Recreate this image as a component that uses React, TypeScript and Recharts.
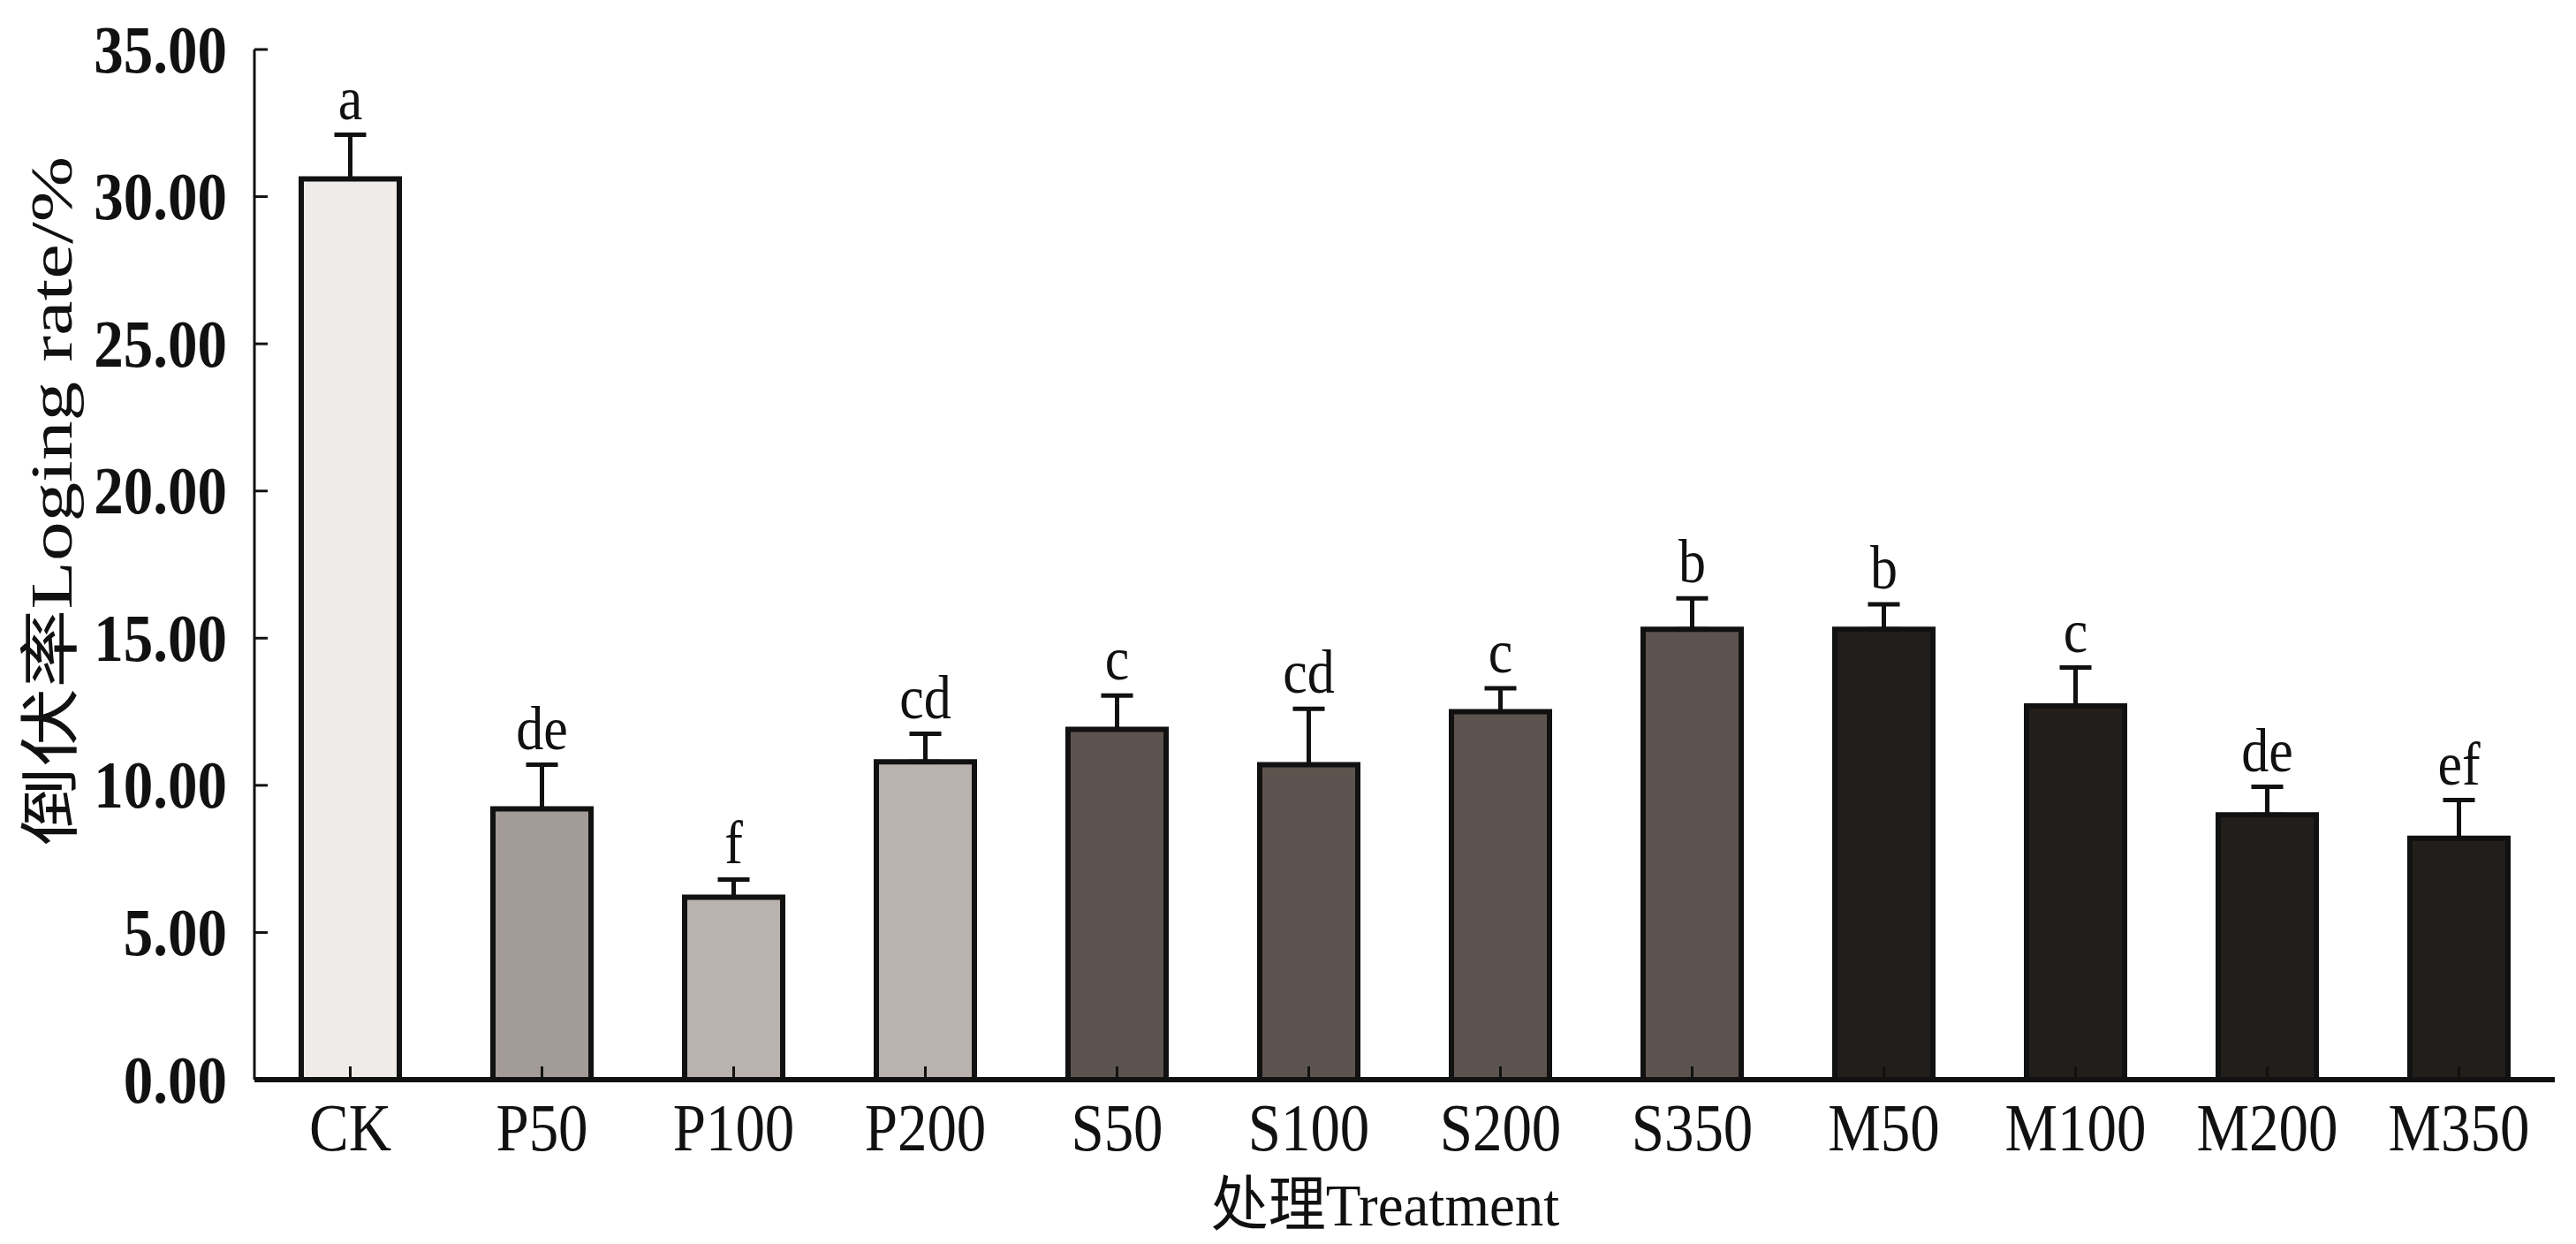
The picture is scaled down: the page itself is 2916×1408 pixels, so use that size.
import React from 'react';
import { BarChart, Bar, XAxis, YAxis, ErrorBar, Cell, LabelList, Label } from 'recharts';

const categories = ['CK', 'P50', 'P100', 'P200', 'S50', 'S100', 'S200', 'S350', 'M50', 'M100', 'M200', 'M350'];
const means = [30.6, 9.2, 6.2, 10.8, 11.9, 10.7, 12.5, 15.3, 15.3, 12.7, 9.0, 8.2];
const errors = [1.5, 1.5, 0.6, 0.95, 1.15, 1.9, 0.8, 1.05, 0.85, 1.3, 0.95, 1.3];
const letters = ['a', 'de', 'f', 'cd', 'c', 'cd', 'c', 'b', 'b', 'c', 'de', 'ef'];
const yTicks = [0, 5, 10, 15, 20, 25, 30, 35];

const colorByCategory: Record<string, string> = {
  CK: '#efebe8',
  P50: '#a39b97',
  P100: '#bab2ae',
  P200: '#bab2ae',
  S50: '#5d534e',
  S100: '#5d534e',
  S200: '#5d534e',
  S350: '#5d534e',
  M50: '#221e1b',
  M100: '#221e1b',
  M200: '#221e1b',
  M350: '#221e1b',
};

const data = categories.map((name, i) => ({
  name,
  mean: means[i],
  err: [0, errors[i]],
  letter: letters[i],
}));

const FONT = '"Liberation Serif", "Times New Roman", "Noto Sans CJK SC", serif';
const STRETCH = 1.14;

const XTick = (props: any) => {
  const { x, y, payload } = props;
  return (
    <g transform={`translate(${x},${y}) scale(1,${STRETCH})`}>
      <text x={0} y={0} dy={14} textAnchor="middle" dominantBaseline="central" fontSize={67} fontFamily={FONT} fill="#111">
        {payload.value}
      </text>
    </g>
  );
};

const YTick = (props: any) => {
  const { x, y, payload } = props;
  return (
    <g transform={`translate(${x},${y}) scale(1,${STRETCH})`}>
      <text x={0} y={0} textAnchor="end" dominantBaseline="central" fontSize={67} fontWeight="bold" fontFamily={FONT} fill="#111">
        {Number(payload.value).toFixed(2)}
      </text>
    </g>
  );
};

const LetterLabel = (props: any) => {
  const { x, y, width, height, index, value } = props;
  const i = typeof index === 'number' ? index : letters.indexOf(value);
  const ratio = errors[i] / means[i];
  const errTop = Number(y) - Number(height) * ratio;
  const cx = Number(x) + Number(width) / 2;
  const by = errTop - 18;
  return (
    <g transform={`translate(${cx},${by}) scale(1,${STRETCH})`}>
      <text x={0} y={0} textAnchor="middle" fontSize={62} fontFamily={FONT} fill="#111">
        {value}
      </text>
    </g>
  );
};

const YTitle = () => {
  const cx = 58;
  const cy = 567;
  return (
    <text
      x={cx}
      y={cy}
      transform={`rotate(-90 ${cx} ${cy})`}
      textAnchor="middle"
      dominantBaseline="central"
      fontSize={68}
      fontFamily={FONT}
      fill="#111"
      textLength={780}
      lengthAdjust="spacingAndGlyphs"
    >
      倒伏率Loging rate/%
    </text>
  );
};

const XTitle = () => (
  <g transform={`translate(1568,1364) scale(1,1.05)`}>
    <text x={0} y={0} textAnchor="middle" dominantBaseline="central" fontSize={65} fontFamily={FONT} fill="#111">
      处理Treatment
    </text>
  </g>
);

export default function App() {
  return (
    <div style={{ position: 'absolute', left: 0, top: 0, width: 2916, height: 1408, background: '#fff' }}>
      <BarChart
        width={2916}
        height={1408}
        data={data}
        margin={{ top: 56, right: 24, bottom: 0, left: 0 }}
        barCategoryGap={0}
      >
        <XAxis
          dataKey="name"
          height={186}
          axisLine={{ stroke: '#111', strokeWidth: 6 }}
          tickLine={{ stroke: '#111', strokeWidth: 3 }}
          tickSize={-15}
          tickMargin={54}
          tick={<XTick />}
          interval={0}
        >
          <Label content={<XTitle />} />
        </XAxis>
        <YAxis
          width={288}
          domain={[0, 35]}
          ticks={yTicks}
          interval={0}
          axisLine={{ stroke: '#111', strokeWidth: 3 }}
          tickLine={{ stroke: '#111', strokeWidth: 3 }}
          tickSize={-15}
          tickMargin={46}
          tick={<YTick />}
        >
          <Label content={<YTitle />} />
        </YAxis>
        <Bar dataKey="mean" barSize={111} stroke="#111" strokeWidth={6} isAnimationActive={false}>
          {data.map((d) => (
            <Cell key={d.name} fill={colorByCategory[d.name]} />
          ))}
          <ErrorBar dataKey="err" direction="y" width={18} stroke="#111" strokeWidth={5} isAnimationActive={false} />
          <LabelList dataKey="letter" content={<LetterLabel />} />
        </Bar>
      </BarChart>
    </div>
  );
}
